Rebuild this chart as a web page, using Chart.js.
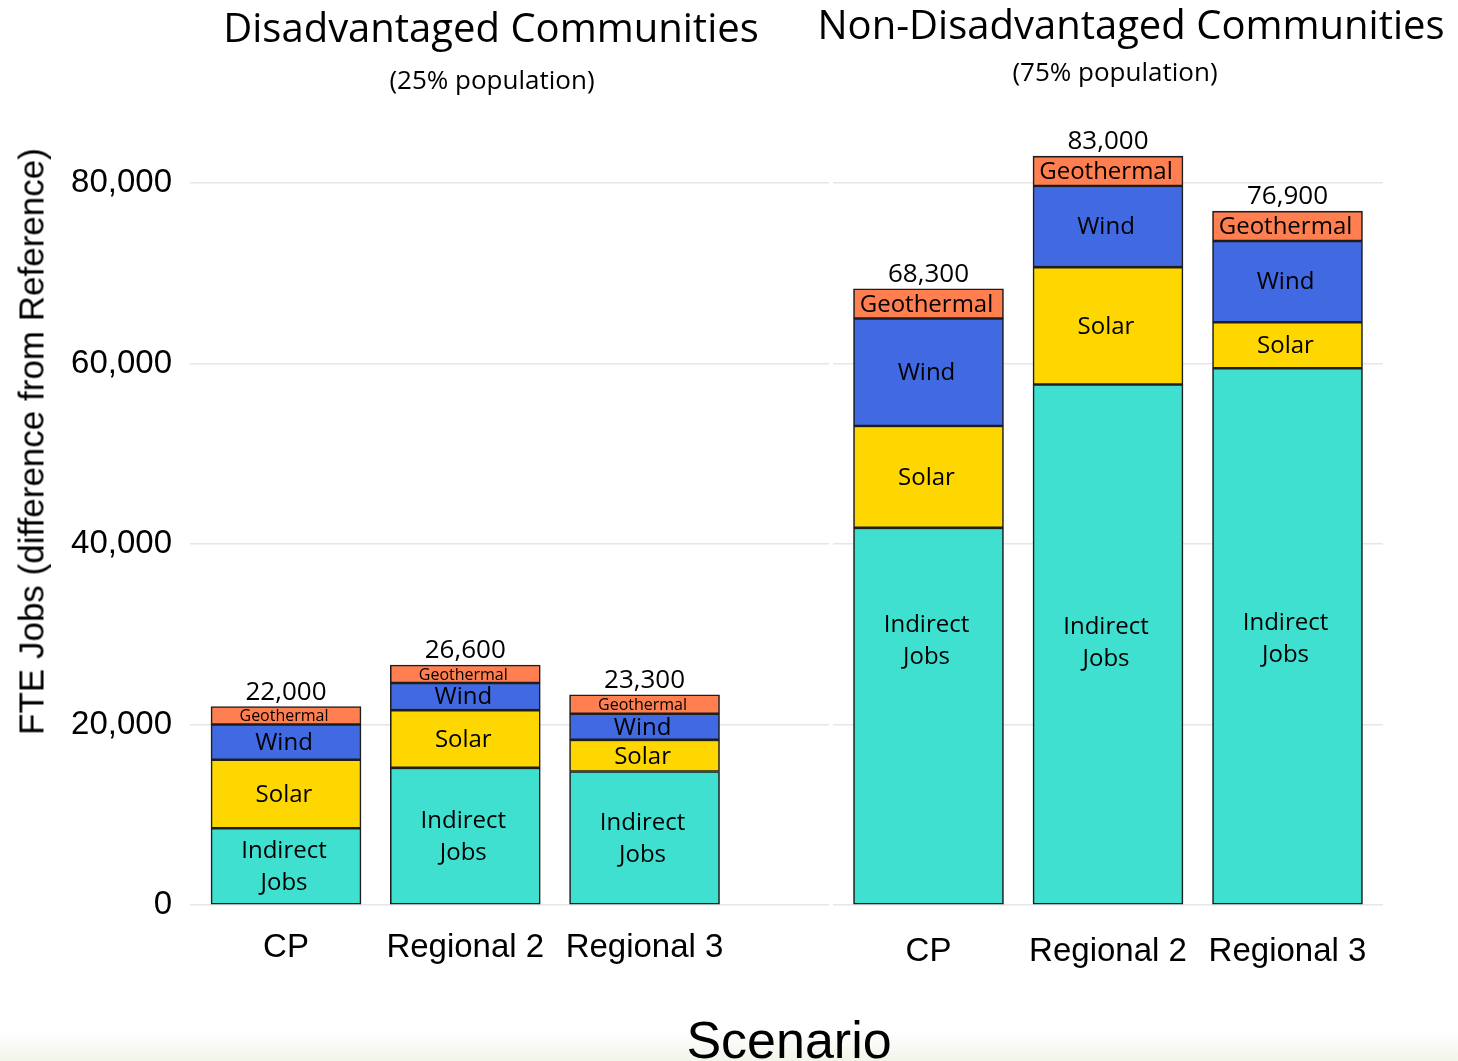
<!DOCTYPE html>
<html lang="en">
<head>
<meta charset="utf-8">
<title>FTE Jobs by Scenario</title>
<script src="https://cdn.jsdelivr.net/npm/chart.js@4.4.1/dist/chart.umd.min.js"></script>
<style>
  html, body { margin: 0; padding: 0; background: #fff; }
  body { width: 1458px; height: 1061px; position: relative; overflow: hidden; }
  .fade {
    position: absolute; left: 0; right: 0; bottom: 0; height: 30px;
    background: linear-gradient(to bottom, rgba(255,255,255,0), rgba(238,242,228,0.8));
  }
  .panel { position: absolute; top: 0; height: 1000px; }
  #panelDac { left: 0; width: 830px; }
  #panelNon { left: 800px; width: 658px; }
  .title {
    position: absolute; font-family: "Open Sans", sans-serif; color: #000;
    line-height: 1; white-space: nowrap; transform: translateX(-50%);
  }
  .title.main { font-size: 40px; }
  .title.sub { font-size: 26px; }
  #yTitle {
    position: absolute; left: -319px; top: 424px; width: 700px; height: 35px;
    font-family: "Liberation Sans", Arial, sans-serif; font-size: 35px; line-height: 35px;
    text-align: center; white-space: nowrap; transform: rotate(-90deg); color: #000;
  }
  #xTitle {
    position: absolute; left: 789px; top: 1014px; transform: translateX(-50%);
    font-family: "Liberation Sans", Arial, sans-serif; font-size: 52px; line-height: 52px;
    white-space: nowrap; color: #000;
  }
</style>
</head>
<body>
<div class="fade"></div>
<div class="panel" id="panelDac"><canvas id="chartDac"></canvas></div>
<div class="panel" id="panelNon"><canvas id="chartNon"></canvas></div>

<div class="title main" style="left:491px; top:7px;">Disadvantaged Communities</div>
<div class="title sub" style="left:492px; top:66px;">(25% population)</div>
<div class="title main" style="left:1131px; top:4px;">Non-Disadvantaged Communities</div>
<div class="title sub" style="left:1115px; top:58px;">(75% population)</div>
<div id="yTitle">FTE Jobs (difference from Reference)</div>
<div id="xTitle">Scenario</div>

<script>
/* ────────────────────────────────────────────────────────────
   DATA (FTE jobs, difference from Reference)
   ──────────────────────────────────────────────────────────── */
const scenarios = ['CP', 'Regional 2', 'Regional 3'];
const segmentNames = ['Indirect Jobs', 'Solar', 'Wind', 'Geothermal'];
const yTicks = [0, 20000, 40000, 60000, 80000];

// Disadvantaged communities
const dacIndirect = [8500, 15200, 14800];
const dacSolar = [7600, 6400, 3500];
const dacWind = [3900, 3000, 2900];
const dacGeothermal = [2000, 2000, 2100];

// Non-disadvantaged communities
const nonIndirect = [41800, 57700, 59500];
const nonSolar = [11300, 13000, 5100];
const nonWind = [11900, 9000, 9000];
const nonGeothermal = [3300, 3300, 3300];

/* ────────────────────────────────────────────────────────────
   STYLES
   ──────────────────────────────────────────────────────────── */
const segmentColors = ['#40E0D0', '#FFD700', '#4169E1', '#FF7F50'];
const labelFont = '"Open Sans", sans-serif';
const axisFont = '"Liberation Sans", Arial, sans-serif';

/* ────────────────────────────────────────────────────────────
   PLUGIN: text inside each segment + total above each bar
   ──────────────────────────────────────────────────────────── */
const segmentLabels = {
  id: 'segmentLabels',
  afterDatasetsDraw(chart, args, opts) {
    const ctx = chart.ctx;
    ctx.save();
    ctx.fillStyle = '#000';
    ctx.textAlign = 'center';
    ctx.textBaseline = 'middle';

    chart.data.datasets.forEach((ds, di) => {
      const meta = chart.getDatasetMeta(di);
      const small = opts.small.includes(ds.label);
      ctx.font = `${small ? 16 : 24}px ${labelFont}`;
      const lines = ds.label === 'Indirect Jobs' ? ['Indirect', 'Jobs'] : [ds.label];
      const lh = 32;
      meta.data.forEach((bar, i) => {
        let mid = (bar.y + bar.base) / 2;
        if (di === 0 && opts.shift) mid += opts.shift[i];
        lines.forEach((line, li) => {
          const y = mid + (li - (lines.length - 1) / 2) * lh;
          ctx.fillText(line, bar.x - 2, y + 1);
        });
      });
    });

    // totals
    const topMeta = chart.getDatasetMeta(chart.data.datasets.length - 1);
    ctx.font = `26px ${labelFont}`;
    ctx.textBaseline = 'alphabetic';
    topMeta.data.forEach((bar, i) => {
      const total = chart.data.datasets.reduce((s, ds) => s + ds.data[i].y, 0);
      ctx.fillText(total.toLocaleString('en-US'), bar.x, bar.y - 7);
    });
    ctx.restore();
  },
};

/* ────────────────────────────────────────────────────────────
   CHART BUILDER
   ──────────────────────────────────────────────────────────── */
function makeChart(canvasId, series, opts) {
  return new Chart(document.getElementById(canvasId), {
    type: 'bar',
    data: {
      datasets: series.map((values, k) => ({
        label: segmentNames[k],
        data: values.map((v, i) => ({ x: i, y: v })),
        backgroundColor: segmentColors[k],
        borderColor: '#1e1e1e',
        borderWidth: 1.6,
        borderSkipped: false,
        barThickness: 150,
      })),
    },
    options: {
      responsive: true,
      maintainAspectRatio: false,
      animation: false,
      layout: { padding: opts.padding },
      plugins: {
        legend: { display: false },
        tooltip: { enabled: false },
        segmentLabels: { small: opts.small, shift: opts.shift },
      },
      scales: {
        x: {
          type: 'linear',
          stacked: true,
          offset: false,
          min: opts.xMin,
          max: opts.xMax,
          grid: { display: false, drawTicks: false },
          border: { display: false },
          afterBuildTicks: axis => { axis.ticks = scenarios.map((_, i) => ({ value: i })); },
          afterFit: axis => { axis.height = 95; },
          ticks: {
            callback: v => scenarios[v],
            autoSkip: false,
            maxRotation: 0,
            padding: opts.xPad,
            color: '#000',
            font: { family: axisFont, size: 33 },
          },
        },
        y: {
          stacked: true,
          min: 0,
          max: 90000,
          grid: { color: '#e6e6e6', lineWidth: 1.5, drawTicks: false },
          border: { display: false },
          afterBuildTicks: axis => { axis.ticks = yTicks.map(v => ({ value: v })); },
          afterFit: axis => { axis.width = opts.yWidth; },
          ticks: {
            display: opts.showTicks,
            padding: 18,
            color: '#000',
            font: { family: axisFont, size: 33 },
            callback: v => v.toLocaleString('en-US'),
          },
        },
      },
    },
    plugins: [segmentLabels],
  });
}

/* ────────────────────────────────────────────────────────────
   INIT
   ──────────────────────────────────────────────────────────── */
makeChart('chartDac', [dacIndirect, dacSolar, dacWind, dacGeothermal], {
  padding: { top: 93, left: 0, right: 1, bottom: 0 },
  yWidth: 190,
  showTicks: true,
  xMin: -0.5356,
  xMax: 3.029,
  xPad: 23,
  small: ['Geothermal'],
});

makeChart('chartNon', [nonIndirect, nonSolar, nonWind, nonGeothermal], {
  padding: { top: 93, left: 33, right: 75, bottom: 0 },
  yWidth: 0,
  showTicks: false,
  xMin: -0.532,
  xMax: 2.532,
  xPad: 27,
  small: [],
  shift: [-76, -2, 2],
});
</script>
</body>
</html>
